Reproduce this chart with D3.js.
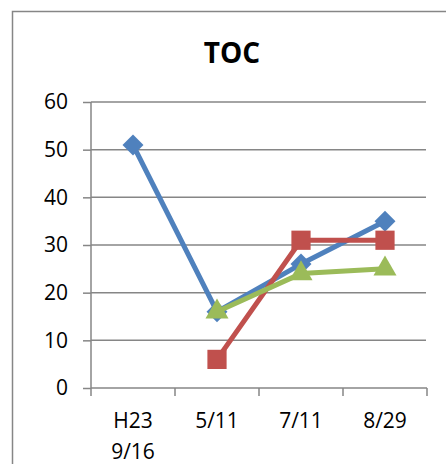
<!DOCTYPE html>
<html><head><meta charset="utf-8">
<script src="https://cdn.jsdelivr.net/npm/d3@7"></script>
<style>html,body{margin:0;padding:0;background:#fff;}svg{display:block;}</style>
</head><body>
<script>
const title = "TOC";
const categories = [["H23","9/16"],["5/11"],["7/11"],["8/29"]];
const seriesBlue = [51, 16, 26, 35];
const seriesRed = [null, 6, 31, 31];
const seriesGreen = [null, 16, 24, 25];
const yTicks = [0,10,20,30,40,50,60];

const W = 446, H = 464;
const svg = d3.select("body").append("svg").attr("width", W).attr("height", H);
const font = "'Open Sans', sans-serif";

svg.append("rect").attr("x",12.5).attr("y",11.5).attr("width",460).attr("height",480)
  .attr("fill","#fff").attr("stroke","#868686").attr("stroke-width",1.5);

svg.append("text").attr("x",232).attr("y",63).attr("text-anchor","middle")
  .attr("font-family",font).attr("font-weight","bold").attr("font-size",28).text(title);

const x = d3.scaleBand().domain(d3.range(categories.length)).range([91,427]);
const y = d3.scaleLinear().domain([0,60]).range([388,102]);

// gridlines
svg.append("g").selectAll("line").data(yTicks.filter(d=>d>0)).join("line")
  .attr("x1",91).attr("x2",426).attr("y1",d=>y(d)).attr("y2",d=>y(d))
  .attr("stroke","#868686").attr("stroke-width",1.5);

// y axis
const yAxis = d3.axisLeft(y).tickValues(yTicks).tickSize(8).tickPadding(15);
const gy = svg.append("g").attr("transform","translate(91,0)").call(yAxis);
gy.select(".domain").attr("stroke","#868686").attr("stroke-width",1.5).attr("d","M0,"+y(60)+"V"+y(0));
gy.selectAll(".tick line").attr("stroke","#868686").attr("stroke-width",1.5);
gy.selectAll(".tick text").attr("font-family",font).attr("font-size",21).attr("fill","#000");

// x axis
const xAxis = d3.axisBottom(x).tickSize(0).tickFormat(()=>"");
const gx = svg.append("g").attr("transform","translate(0,"+y(0)+")").call(xAxis);
gx.select(".domain").attr("stroke","#868686").attr("stroke-width",1.5).attr("d","M91,0H427");
const bounds = d3.range(categories.length+1).map(i=> i<categories.length ? x(i) : x(i-1)+x.bandwidth());
gx.selectAll(".bt").data(bounds).join("line").attr("class","bt")
  .attr("x1",d=>d).attr("x2",d=>d).attr("y1",0).attr("y2",8)
  .attr("stroke","#868686").attr("stroke-width",1.5);
categories.forEach((lines,i)=>{
  const t = svg.append("text").attr("text-anchor","middle").attr("font-family",font)
    .attr("font-size",21).attr("fill","#000");
  lines.forEach((l,j)=>{
    t.append("tspan").attr("x",x(i)+x.bandwidth()/2).attr("y",428+j*31).text(l);
  });
});

const cx = i => x(i)+x.bandwidth()/2;
const series = [
  {data: seriesBlue, color:"#4F81BD", sym:d3.symbolDiamond2, size:280},
  {data: seriesRed, color:"#C0504D", sym:d3.symbolSquare2, size:470},
  {data: seriesGreen, color:"#9BBB59", sym:d3.symbolTriangle2, size:380}
];
const line = d3.line().defined(d=>d.v!=null).x(d=>cx(d.i)).y(d=>y(d.v));
series.forEach(s=>{
  const pts = s.data.map((v,i)=>({v,i}));
  svg.append("path").datum(pts).attr("d",line).attr("fill","none")
    .attr("stroke",s.color).attr("stroke-width",5).attr("stroke-linejoin","round");
  svg.append("g").selectAll("path").data(pts.filter(d=>d.v!=null)).join("path")
    .attr("transform",d=>`translate(${cx(d.i)},${y(d.v)})`)
    .attr("d",d3.symbol().type(s.sym).size(s.size)).attr("fill",s.color);
});
</script>
</body></html>
